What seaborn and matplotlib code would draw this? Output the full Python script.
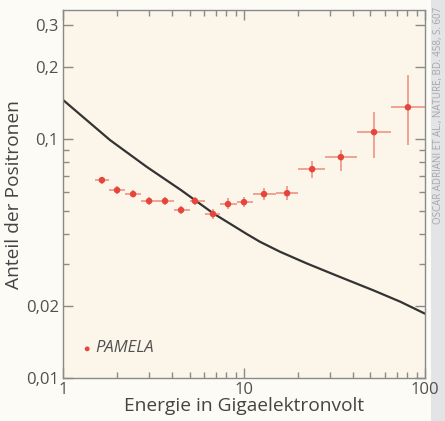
import numpy as np
import pandas as pd
import seaborn as sns
import matplotlib.pyplot as plt
from matplotlib.ticker import FixedLocator, FixedFormatter, LogLocator, NullFormatter

# PAMELA positron fraction
energy = [1.64, 1.99, 2.44, 2.99, 3.66, 4.49, 5.36, 6.74, 8.16, 10.0, 12.9, 17.3, 23.8, 34.3, 52.3, 80.5]
fraction = [0.0674, 0.0612, 0.0589, 0.0551, 0.0551, 0.0505, 0.0551, 0.0486,
            0.0535, 0.0545, 0.0589, 0.0594, 0.0749, 0.0841, 0.107, 0.136]
energy_lo = [1.5, 1.8, 2.2, 2.7, 3.3, 4.1, 5.0, 6.1, 7.4, 9.1, 11.2, 15, 20, 28, 42, 65]
energy_hi = [1.8, 2.2, 2.7, 3.3, 4.1, 5.0, 6.1, 7.4, 9.1, 11.2, 15, 20, 28, 42, 65, 100]
fraction_lo = [0.065, 0.059, 0.057, 0.053, 0.053, 0.0485, 0.053, 0.0465,
               0.051, 0.052, 0.0555, 0.0555, 0.0687, 0.0735, 0.0832, 0.0944]
fraction_hi = [0.0695, 0.0635, 0.061, 0.057, 0.057, 0.0525, 0.057, 0.051,
               0.0565, 0.0575, 0.0625, 0.0635, 0.0809, 0.090, 0.130, 0.185]

# secondary production model (black curve)
model_energy = [1, 1.82, 2.90, 4.49, 6.77, 10.35, 12.25, 15.8, 22.2, 33.9, 51.8, 72.8, 100]
model_fraction = [0.146, 0.0991, 0.0766, 0.0612, 0.0489, 0.0401, 0.0372, 0.0338,
                  0.0302, 0.0265, 0.0233, 0.0209, 0.0186]

y_ticks = [0.01, 0.02, 0.1, 0.2, 0.3]
y_labels = ["0,01", "0,02", "0,1", "0,2", "0,3"]
x_ticks = [1, 10, 100]
x_labels = ["1", "10", "100"]

sns.set_style("ticks")
plt.rcParams['font.family'] = ['Open Sans', 'DejaVu Sans']

fig = plt.figure(figsize=(4.45, 4.21), dpi=100, facecolor="#fcfbf6")
ax = fig.add_axes([0.1416, 0.102, 0.955 - 0.1416, 0.976 - 0.102])
ax.set_facecolor("#fbf6e9")

pts = pd.DataFrame({"energy": energy, "fraction": fraction})
model = pd.DataFrame({"energy": model_energy, "fraction": model_fraction})

sns.lineplot(data=model, x="energy", y="fraction", color="#333333", linewidth=1.6, ax=ax)

xerr = [np.array(energy) - np.array(energy_lo), np.array(energy_hi) - np.array(energy)]
yerr = [np.array(fraction) - np.array(fraction_lo), np.array(fraction_hi) - np.array(fraction)]
ax.errorbar(energy, fraction, xerr=xerr, yerr=yerr, fmt="none",
            ecolor="#ef8a7c", elinewidth=1.1, capsize=0)
sns.scatterplot(data=pts, x="energy", y="fraction", color="#e8453a", s=22,
                edgecolor="none", ax=ax, zorder=3)

ax.set_xscale("log")
ax.set_yscale("log")
ax.set_xlim(1, 100)
ax.set_ylim(0.01, 0.347)

ax.yaxis.set_major_locator(FixedLocator(y_ticks))
ax.yaxis.set_major_formatter(FixedFormatter(y_labels))
ax.yaxis.set_minor_locator(LogLocator(base=10, subs=np.arange(2, 10) * 1.0))
ax.yaxis.set_minor_formatter(NullFormatter())
ax.xaxis.set_major_locator(FixedLocator(x_ticks))
ax.xaxis.set_major_formatter(FixedFormatter(x_labels))
ax.xaxis.set_minor_locator(LogLocator(base=10, subs=np.arange(2, 10) * 1.0))
ax.xaxis.set_minor_formatter(NullFormatter())

ax.tick_params(which="both", direction="in", top=True, right=True, colors="#8a8a8a",
               labelcolor="#505050", labelsize=12)
ax.tick_params(which="major", length=7, width=1, pad=3)
ax.tick_params(which="minor", length=4, width=1)
for s in ax.spines.values():
    s.set_color("#8a8a8a")
    s.set_linewidth(1)

ax.set_xlabel("Energie in Gigaelektronvolt", fontsize=13.8, color="#444444", labelpad=-1)
ax.set_ylabel("Anteil der Positronen", fontsize=13.8, color="#444444", labelpad=2)

# legend
ax.scatter([1.36], [0.01325], color="#e8453a", s=12, edgecolor="none")
ax.text(1.5, 0.0134, "PAMELA", fontsize=12, style="italic", color="#505050", va="center")

# credit strip
fig.patches.append(plt.Rectangle((431 / 445, 0), 14 / 445, 1, transform=fig.transFigure,
                                 facecolor="#e3e4e6", edgecolor="none", zorder=-1))
fig.text(438 / 445, 0.985, "OSCAR ADRIANI ET AL., NATURE, BD. 458, S. 607", rotation=90,
         fontsize=7, color="#a4a8ae", ha="center", va="top", zorder=-0.5)

fig.savefig("out.png", dpi=100, facecolor=fig.get_facecolor())
